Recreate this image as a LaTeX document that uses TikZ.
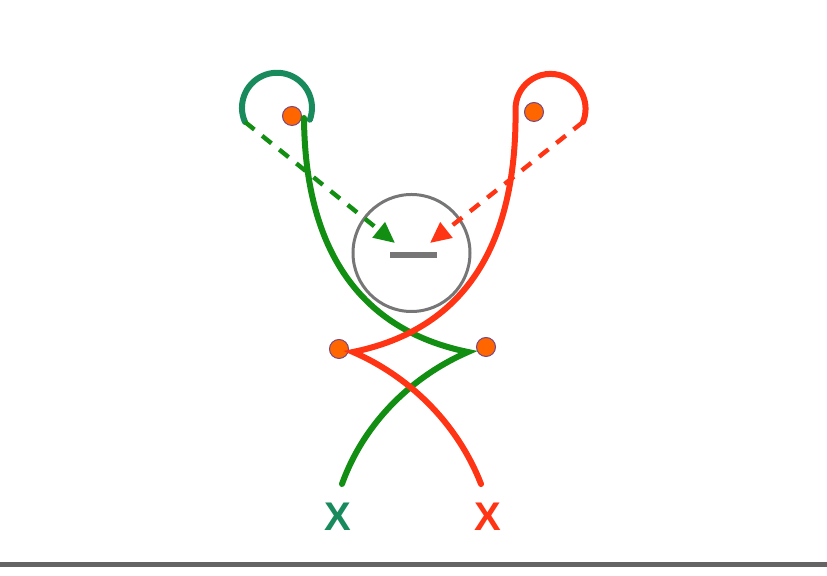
\documentclass[tikz,border=0pt]{standalone}
\usepackage{fontspec}
\setmainfont{Liberation Sans}
\usetikzlibrary{arrows.meta}

\definecolor{loopgreen}{RGB}{24,138,92}
\definecolor{pathgreen}{RGB}{18,142,18}
\definecolor{pathred}{RGB}{255,52,20}
\definecolor{dotorange}{RGB}{255,102,0}
\definecolor{dotrim}{RGB}{120,70,130}
\definecolor{ringgray}{RGB}{118,118,118}
\definecolor{floorgray}{RGB}{100,100,100}

\tikzset{
  dot/.style={circle, fill=dotorange, draw=dotrim, line width=0.5pt, minimum size=9.5pt, inner sep=0pt},
  strand/.style={line width=3pt, line cap=round, line join=miter},
  pull/.style={line width=2.2pt, dash pattern=on 6pt off 5pt, -{Triangle[length=10.5pt, width=9.5pt]}},
  mark label/.style={font=\bfseries\fontsize{20}{20}\selectfont, inner sep=0pt}
}

\begin{document}
\begin{tikzpicture}[x=0.5pt, y=-0.5pt]
\useasboundingbox (0,0) rectangle (827,576);

% Charges
\node (dotgl) [dot] at (292,116) {};
\node (dotrt) [dot] at (534,112) {};
\node (dotl) [dot] at (339,349) {};
\node (dotr) [dot] at (486,347) {};

% Central ring with minus
\node (ring) [circle, draw=ringgray, line width=1.5pt, minimum size=58.5pt, inner sep=0pt] at (411.5,253) {};
\draw[ringgray, line width=2.8pt] (390,255) -- (437,255);

% Labels
\node (xg) [mark label, text=loopgreen] at (337.5,517) {X};
\node (xr) [mark label, text=pathred] at (487.5,517) {X};

% End points
\coordinate (gtail) at (245,122);
\coordinate (rtail) at (583,122);
\coordinate (gtip) at (395,243);
\coordinate (rtip) at (430,243);
\coordinate (gstart) at (304,118);
\coordinate (gapex) at (468,352);
\coordinate (rapex) at (353,352);
\coordinate (gend) at (342,484);
\coordinate (rend) at (481,484);

% Green strand
\draw[strand, loopgreen] (gtail) arc[start angle=156, end angle=380, radius=35];
\draw[strand, pathgreen] (gstart) .. controls (305,250) and (360,330) .. (gapex)
  .. controls (415,375) and (365,420) .. (gend);

% Red strand
\draw[strand, pathred] (rtail) arc[start angle=22, end angle=-180, radius=35]
  .. controls (517,250) and (461,330) .. (rapex)
  .. controls (406,375) and (456,420) .. (rend);

% Pulls towards the ring
\draw[pull, pathgreen] (gtail) -- (gtip);
\draw[pull, pathred] (rtail) -- (rtip);

% Floor
\draw[floorgray, line width=2.5pt] (0,565) -- (827,565);

\end{tikzpicture}
\end{document}
